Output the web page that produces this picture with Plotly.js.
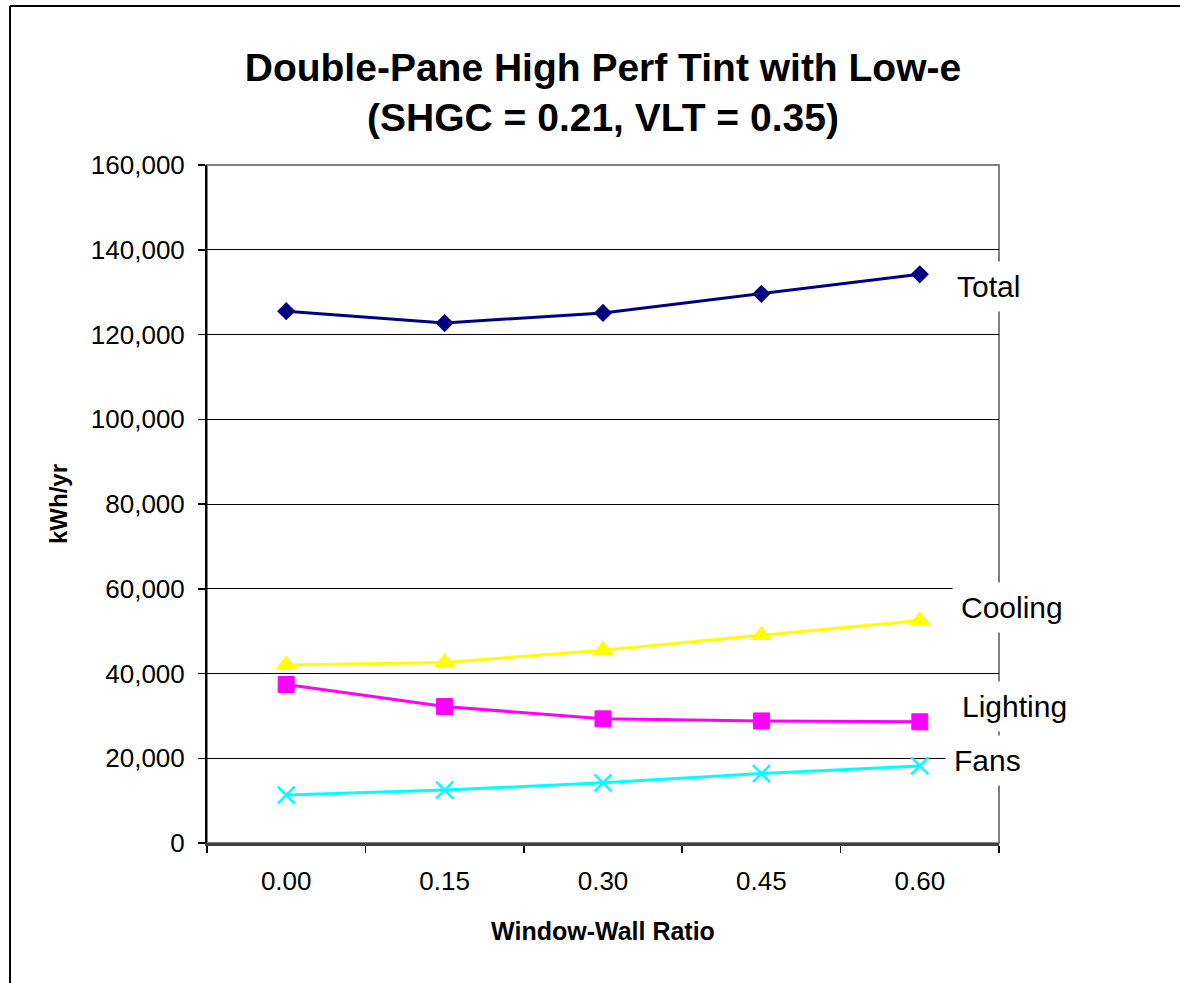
<!DOCTYPE html>
<html>
<head>
<meta charset="utf-8">
<script src="https://cdn.plot.ly/plotly-3.0.1.min.js"></script>
<style>
html, body { margin: 0; padding: 0; background: #fff; }
#chart { width: 1180px; height: 983px; }
</style>
</head>
<body>
<div id="chart"></div>
<script>
const categories = ['0.00', '0.15', '0.30', '0.45', '0.60'];
const totalValues = [125500, 122700, 125100, 129600, 134200];
const coolingValues = [42000, 42600, 45500, 49000, 52500];
const lightingValues = [37400, 32200, 29300, 28800, 28600];
const fansValues = [11300, 12500, 14200, 16400, 18200];
const seriesNames = ['Total', 'Cooling', 'Lighting', 'Fans'];
const yTickVals = [0, 20000, 40000, 60000, 80000, 100000, 120000, 140000, 160000];
const yTickText = ['0', '20,000', '40,000', '60,000', '80,000', '100,000', '120,000', '140,000', '160,000'];

const FONT = 'Liberation Sans, Arial, sans-serif';

const traces = [
  { name: seriesNames[0], x: categories, y: totalValues, type: 'scatter', mode: 'lines+markers',
    line: { color: '#000080', width: 3 },
    marker: { symbol: 'diamond', size: 14, color: '#000080' } },
  { name: seriesNames[1], x: categories, y: coolingValues, type: 'scatter', mode: 'lines+markers',
    line: { color: '#FFFF00', width: 3 },
    marker: { symbol: 'triangle-up', size: 19, color: '#FFFF00' } },
  { name: seriesNames[2], x: categories, y: lightingValues, type: 'scatter', mode: 'lines+markers',
    line: { color: '#FF00FF', width: 3 },
    marker: { symbol: 'square', size: 16, color: '#FF00FF', line: { color: '#FF00FF', width: 1 } } },
  { name: seriesNames[3], x: categories, y: fansValues, type: 'scatter', mode: 'lines+markers',
    line: { color: '#00FFFF', width: 3 },
    marker: { symbol: 'x-thin', size: 17, color: '#00FFFF', line: { color: '#00FFFF', width: 2.5 } } }
];

const labelPos = [
  { x: 0.987, y: 0.8215 },
  { x: 1.0164, y: 0.348 },
  { x: 1.0202, y: 0.2006 },
  { x: 0.985, y: 0.1224 }
];

const annotations = seriesNames.map((n, i) => ({
  text: n, xref: 'paper', yref: 'paper', x: labelPos[i].x, y: labelPos[i].y,
  xanchor: 'center', yanchor: 'middle', showarrow: false,
  font: { family: FONT, size: 30, color: '#000' },
  bgcolor: '#ffffff', borderpad: 8
}));

const layout = {
  width: 1180, height: 983,
  paper_bgcolor: '#ffffff', plot_bgcolor: '#ffffff',
  margin: { l: 207, r: 181, t: 165, b: 140 },
  showlegend: false,
  title: {
    text: '<b>Double-Pane High Perf Tint with Low-e<br>(SHGC = 0.21, VLT = 0.35)</b>',
    font: { family: FONT, size: 39, color: '#000' },
    xref: 'container', yref: 'container', x: 0.511, xanchor: 'center',
    y: 0.918, yanchor: 'middle'
  },
  xaxis: {
    type: 'category', range: [-0.5, 4.5], fixedrange: true,
    tickson: 'boundaries', ticks: 'outside', ticklen: 7, tickwidth: 1.5, tickcolor: '#000',
    showgrid: false, showline: true, linecolor: '#404040', linewidth: 2.5,
    tickfont: { family: FONT, size: 26, color: '#000' }, ticklabelstandoff: 13,
    title: { text: '<b>Window-Wall Ratio</b>', font: { family: FONT, size: 25, color: '#000' }, standoff: 28 },
    zeroline: false
  },
  yaxis: {
    range: [0, 160000], fixedrange: true,
    tickvals: yTickVals, ticktext: yTickText,
    ticks: 'outside', ticklen: 7, tickwidth: 1.5, tickcolor: '#000',
    showgrid: true, gridcolor: '#000000', gridwidth: 1,
    showline: true, linecolor: '#000', linewidth: 2,
    tickfont: { family: FONT, size: 26, color: '#000' }, ticklabelstandoff: 8,
    title: { text: '<b>kWh/yr</b>', font: { family: FONT, size: 24, color: '#000' }, standoff: 16 },
    zeroline: false
  },
  shapes: [
    { type: 'rect', xref: 'paper', yref: 'paper', x0: 0, x1: 1, y0: 0, y1: 1,
      line: { color: '#808080', width: 2 }, layer: 'below' },
    { type: 'line', xref: 'paper', yref: 'paper', x0: -0.2487, x1: -0.2487, y0: -0.25, y1: 1.2345,
      line: { color: '#000', width: 2 } },
    { type: 'line', xref: 'paper', yref: 'paper', x0: -0.2487, x1: 1.25, y0: 1.2345, y1: 1.2345,
      line: { color: '#000', width: 2 } }
  ],
  annotations: annotations
};

Plotly.newPlot('chart', traces, layout, { displayModeBar: false, staticPlot: true });
</script>
</body>
</html>
